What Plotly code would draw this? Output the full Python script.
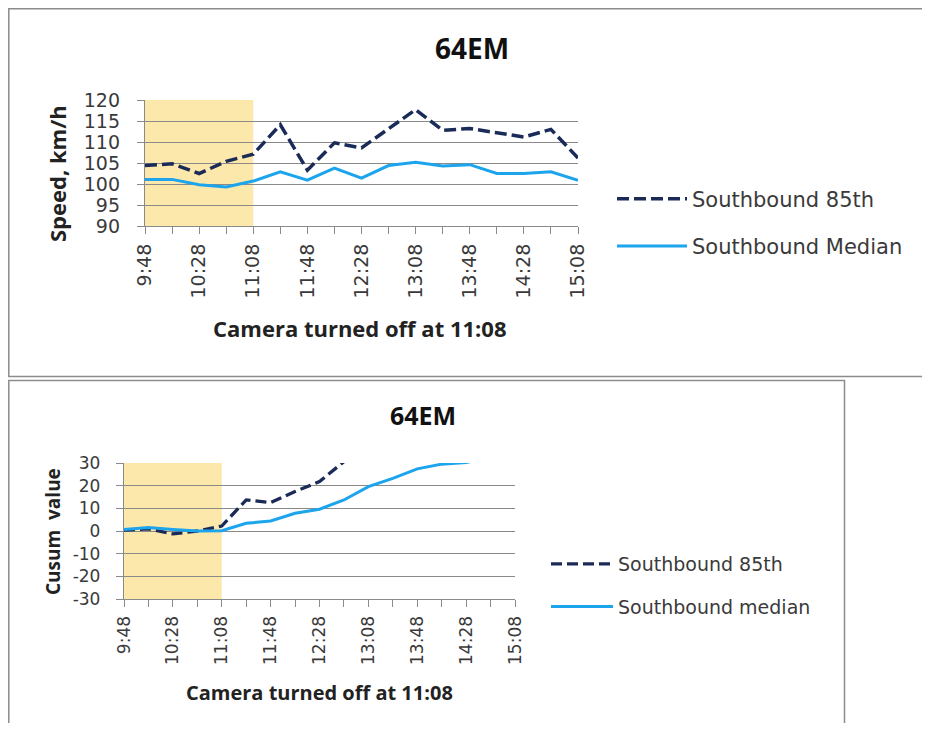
import plotly.graph_objects as go

# survey times (20 minute intervals), every other one is labelled
times = ['9:48', '10:08', '10:28', '10:48', '11:08', '11:28', '11:48', '12:08', '12:28',
         '12:48', '13:08', '13:28', '13:48', '14:08', '14:28', '14:48', '15:08']
tick_labels = ['9:48', '', '10:28', '', '11:08', '', '11:48', '', '12:28',
               '', '13:08', '', '13:48', '', '14:28', '', '15:08']
camera_off = '11:08'

# speeds, km/h
speed_85th = [104.4, 104.8, 102.5, 105.4, 107.1, 114.1, 103.3, 109.8, 108.6,
              113.2, 117.7, 112.8, 113.2, 112.2, 111.2, 113.0, 106.2]
speed_median = [101.1, 101.1, 99.8, 99.3, 100.7, 102.9, 100.9, 103.8, 101.4,
                104.4, 105.2, 104.3, 104.6, 102.5, 102.5, 102.9, 100.9]
speed_ticks = [90, 95, 100, 105, 110, 115, 120]

# cusum values (run above the 30 axis limit after a while)
cusum_85th = [0.4, 0.9, -1.3, 0.0, 2.2, 13.7, 12.5, 17.4, 21.8,
              30.6, 43.4, 51.4, 59.8, 67.2, 73.6, 81.8, 83.2]
cusum_median = [0.7, 1.5, 0.7, 0.0, 0.1, 3.4, 4.4, 7.8, 9.6,
                13.7, 19.6, 23.2, 27.4, 29.5, 30.2, 32.5, 33.6]
cusum_ticks = [-30, -20, -10, 0, 10, 20, 30]
cusum_tick_labels = ['-30', '-20', '-10', '0', '10', '20', '30']

# the page body adds an 8px margin, so work in screen pixels and shift
OX, OY = 8, 8
W, H = 930 - 2 * OX, 731 - 2 * OY
NAVY = '#1a2b58'
SKY = '#1ca4ec'
GRID = '#8a8a8a'
SHADE = '#fde8ac'
TXT = '#3a3a3a'


def px(x):
    return (x - OX) / W


def py(y):
    return 1 - (y - OY) / H


fig = go.Figure()

fig.add_trace(go.Scatter(x=times, y=speed_85th, name='Southbound 85th', mode='lines',
                         line=dict(color=NAVY, width=3.5, dash='12px,5px'),
                         xaxis='x', yaxis='y', legend='legend', legendgroup='a'))
fig.add_trace(go.Scatter(x=times, y=speed_median, name='Southbound Median', mode='lines',
                         line=dict(color=SKY, width=3),
                         xaxis='x', yaxis='y', legend='legend', legendgroup='b'))
fig.add_trace(go.Scatter(x=times, y=cusum_85th, name='Southbound 85th', mode='lines',
                         line=dict(color=NAVY, width=3.3, dash='11px,5px'),
                         xaxis='x2', yaxis='y2', legend='legend2', legendgroup='c'))
fig.add_trace(go.Scatter(x=times, y=cusum_median, name='Southbound median', mode='lines',
                         line=dict(color=SKY, width=3),
                         xaxis='x2', yaxis='y2', legend='legend2', legendgroup='d'))


def xax(domain, anchor, size):
    return dict(domain=domain, anchor=anchor, type='category', range=[0, 16],
                tickmode='array', tickvals=times, ticktext=tick_labels, tickangle=-90,
                ticks='outside', ticklen=7, tickcolor=GRID, showline=True, linecolor=GRID,
                linewidth=1.3, showgrid=False, zeroline=False, ticklabelstandoff=2,
                automargin=False,
                tickfont=dict(family='DejaVu Sans', size=size, color=TXT))


def yax(domain, anchor, rng, vals, labels, size, standoff):
    return dict(domain=domain, anchor=anchor, range=rng,
                tickmode='array', tickvals=vals, ticktext=labels,
                ticks='outside', ticklen=7, tickcolor=GRID, showline=True, linecolor=GRID,
                linewidth=1.3, showgrid=True, gridcolor=GRID, gridwidth=1.3, zeroline=False,
                ticklabelstandoff=standoff, automargin=False,
                tickfont=dict(family='DejaVu Sans', size=size, color=TXT))


fig.update_layout(
    width=W, height=H,
    margin=dict(l=0, r=0, t=0, b=0, autoexpand=False),
    paper_bgcolor='white', plot_bgcolor='rgba(0,0,0,0)',
    xaxis=xax([px(145), px(578)], 'y', 19),
    yaxis=yax([py(226), py(100)], 'x', [90, 120], speed_ticks,
              [str(v) for v in speed_ticks], 19, 13),
    xaxis2=xax([px(124), px(515)], 'y2', 17),
    yaxis2=yax([py(599), py(463)], 'x2', [-30, 30], cusum_ticks,
               cusum_tick_labels, 17, 12),
    legend=dict(x=px(612), y=py(222.5), xanchor='left', yanchor='middle',
                font=dict(family='DejaVu Sans', size=21, color=TXT),
                itemwidth=70, tracegroupgap=17, bgcolor='rgba(0,0,0,0)'),
    legend2=dict(x=px(546), y=py(585.5), xanchor='left', yanchor='middle',
                 font=dict(family='DejaVu Sans', size=19, color=TXT),
                 itemwidth=62, tracegroupgap=15, bgcolor='rgba(0,0,0,0)'),
    showlegend=True,
)

# camera-on period shading
fig.add_shape(type='rect', xref='x', yref='y domain', x0=times[0], x1=camera_off,
              y0=0, y1=1, fillcolor=SHADE, line_width=0, layer='below')
fig.add_shape(type='rect', xref='x2', yref='y2 domain', x0=times[0], x1=camera_off,
              y0=0, y1=1, fillcolor=SHADE, line_width=0, layer='below')

# chart frames
fig.add_shape(type='rect', xref='paper', yref='paper', x0=px(8.8), x1=1.02,
              y0=py(376.5), y1=py(8.8), line=dict(color='#8c8c8c', width=1.5))
fig.add_shape(type='rect', xref='paper', yref='paper', x0=px(8.8), x1=px(844.5),
              y0=-0.02, y1=py(380.5), line=dict(color='#8c8c8c', width=1.5))

title_font = dict(family='Open Sans', size=28, color='#111111')
axis_font = dict(family='Open Sans', size=22, color='#222222')
small_title = dict(family='Open Sans', size=25, color='#111111')
small_axis = dict(family='Open Sans', size=20, color='#222222')

annotations = [
    dict(text='<b>64EM</b>', x=px(472), y=py(48), font=title_font),
    dict(text='<b>Camera turned off at 11:08</b>', x=px(360), y=py(328), font=axis_font),
    dict(text='<b>Speed, km/h</b>', x=px(57), y=py(174), textangle=-90, font=axis_font),
    dict(text='<b>64EM</b>', x=px(423), y=py(415), font=small_title),
    dict(text='<b>Camera turned off at 11:08</b>', x=px(319), y=py(692), font=small_axis),
    dict(text='<b>Cusum  value</b>', x=px(53), y=py(532), textangle=-90,
         font=dict(family='Open Sans', size=19, color='#222222')),
]
for a in annotations:
    fig.add_annotation(xref='paper', yref='paper', showarrow=False,
                       xanchor='center', yanchor='middle', **a)

fig.write_html("out.html")
